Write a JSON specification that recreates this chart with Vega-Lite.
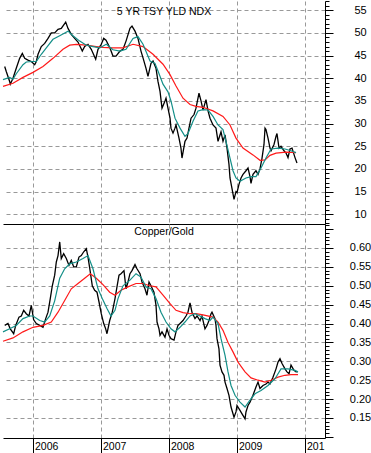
{
"$schema": "https://vega.github.io/schema/vega-lite/v6.json",
"padding": 0,
"spacing": 0,
"config": {"view": {"stroke": null}, "axis": {"labelFont": "Liberation Sans", "labelColor": "#000"}},
"datasets": {
"yk": [{"t":2005.584,"v":42.6},{"t":2005.607,"v":41.5},{"t":2005.657,"v":39.3},{"t":2005.666,"v":38.7},{"t":2005.706,"v":40},{"t":2005.754,"v":42.2},{"t":2005.804,"v":44.4},{"t":2005.843,"v":45.5},{"t":2005.878,"v":44.4},{"t":2005.926,"v":44},{"t":2005.975,"v":43.7},{"t":2006.025,"v":43},{"t":2006.049,"v":43.7},{"t":2006.074,"v":45.3},{"t":2006.122,"v":47},{"t":2006.172,"v":47.7},{"t":2006.221,"v":48.8},{"t":2006.269,"v":50},{"t":2006.319,"v":50},{"t":2006.368,"v":50.8},{"t":2006.416,"v":51},{"t":2006.481,"v":52.4},{"t":2006.515,"v":51},{"t":2006.563,"v":49.7},{"t":2006.613,"v":48.8},{"t":2006.662,"v":48},{"t":2006.725,"v":46},{"t":2006.76,"v":47},{"t":2006.809,"v":47.5},{"t":2006.857,"v":46.4},{"t":2006.922,"v":44.2},{"t":2006.956,"v":46.4},{"t":2007.004,"v":47.5},{"t":2007.04,"v":48.8},{"t":2007.074,"v":48.4},{"t":2007.132,"v":46.7},{"t":2007.176,"v":44.9},{"t":2007.221,"v":44.9},{"t":2007.279,"v":46},{"t":2007.324,"v":46.4},{"t":2007.368,"v":48.2},{"t":2007.426,"v":51},{"t":2007.456,"v":51.5},{"t":2007.5,"v":50.4},{"t":2007.544,"v":48.8},{"t":2007.588,"v":46},{"t":2007.618,"v":44.5},{"t":2007.662,"v":42.2},{"t":2007.691,"v":40.4},{"t":2007.735,"v":43.3},{"t":2007.765,"v":43.8},{"t":2007.809,"v":42.2},{"t":2007.838,"v":39.3},{"t":2007.868,"v":37.1},{"t":2007.897,"v":33.4},{"t":2007.941,"v":35},{"t":2007.956,"v":35.6},{"t":2007.985,"v":33.4},{"t":2008.015,"v":31.2},{"t":2008.029,"v":29},{"t":2008.059,"v":27.9},{"t":2008.088,"v":29},{"t":2008.103,"v":29.7},{"t":2008.147,"v":26.8},{"t":2008.176,"v":24.6},{"t":2008.191,"v":22.4},{"t":2008.235,"v":26.1},{"t":2008.265,"v":26.8},{"t":2008.294,"v":29},{"t":2008.324,"v":31.2},{"t":2008.368,"v":32},{"t":2008.397,"v":33.4},{"t":2008.441,"v":36.7},{"t":2008.471,"v":35},{"t":2008.5,"v":33},{"t":2008.544,"v":35.3},{"t":2008.574,"v":32.8},{"t":2008.603,"v":31.2},{"t":2008.647,"v":29.7},{"t":2008.691,"v":29},{"t":2008.721,"v":26.1},{"t":2008.75,"v":27.5},{"t":2008.765,"v":28.2},{"t":2008.794,"v":26.1},{"t":2008.824,"v":27.5},{"t":2008.853,"v":24.6},{"t":2008.882,"v":21},{"t":2008.897,"v":18},{"t":2008.926,"v":15.7},{"t":2008.956,"v":13.3},{"t":2008.985,"v":15},{"t":2009.0,"v":14.8},{"t":2009.029,"v":16.6},{"t":2009.059,"v":18},{"t":2009.088,"v":18.8},{"t":2009.132,"v":19.6},{"t":2009.162,"v":20.2},{"t":2009.191,"v":18.3},{"t":2009.206,"v":16.8},{"t":2009.235,"v":18.8},{"t":2009.279,"v":19.6},{"t":2009.309,"v":18.8},{"t":2009.338,"v":20},{"t":2009.368,"v":22.4},{"t":2009.397,"v":25.4},{"t":2009.412,"v":29},{"t":2009.426,"v":28.7},{"t":2009.456,"v":26.8},{"t":2009.485,"v":24.6},{"t":2009.5,"v":24},{"t":2009.544,"v":25.4},{"t":2009.574,"v":27.2},{"t":2009.588,"v":27.8},{"t":2009.618,"v":24.6},{"t":2009.647,"v":25},{"t":2009.691,"v":24},{"t":2009.721,"v":23.5},{"t":2009.75,"v":22.5},{"t":2009.779,"v":24.4},{"t":2009.809,"v":24.6},{"t":2009.853,"v":22.5},{"t":2009.882,"v":21.3}],
"yt": [{"t":2005.559,"v":39.7},{"t":2005.657,"v":40.2},{"t":2005.706,"v":39.8},{"t":2005.754,"v":41},{"t":2005.853,"v":43},{"t":2005.901,"v":43.6},{"t":2006.0,"v":43.7},{"t":2006.049,"v":43.7},{"t":2006.122,"v":45.3},{"t":2006.196,"v":46.7},{"t":2006.294,"v":48.6},{"t":2006.393,"v":49.4},{"t":2006.515,"v":50.4},{"t":2006.588,"v":49.4},{"t":2006.687,"v":48.2},{"t":2006.784,"v":47.3},{"t":2006.882,"v":47},{"t":2006.981,"v":46.7},{"t":2007.078,"v":47.5},{"t":2007.176,"v":46.3},{"t":2007.279,"v":46},{"t":2007.368,"v":46.4},{"t":2007.471,"v":48.8},{"t":2007.544,"v":49.2},{"t":2007.618,"v":47.5},{"t":2007.721,"v":43.8},{"t":2007.794,"v":43.3},{"t":2007.838,"v":41.6},{"t":2007.912,"v":38.7},{"t":2007.985,"v":37},{"t":2008.029,"v":35},{"t":2008.088,"v":31.2},{"t":2008.162,"v":29},{"t":2008.235,"v":27.2},{"t":2008.279,"v":27.8},{"t":2008.353,"v":30.5},{"t":2008.426,"v":32.8},{"t":2008.5,"v":33.1},{"t":2008.574,"v":33},{"t":2008.647,"v":31.6},{"t":2008.721,"v":29.7},{"t":2008.794,"v":28.7},{"t":2008.838,"v":26.1},{"t":2008.897,"v":22.4},{"t":2008.941,"v":19.6},{"t":2008.985,"v":18},{"t":2009.044,"v":17.3},{"t":2009.132,"v":18},{"t":2009.206,"v":18.3},{"t":2009.279,"v":18.3},{"t":2009.353,"v":20.2},{"t":2009.426,"v":22.4},{"t":2009.5,"v":24.4},{"t":2009.603,"v":24.6},{"t":2009.706,"v":24.4},{"t":2009.794,"v":24},{"t":2009.868,"v":23.6}],
"yr": [{"t":2005.559,"v":38.2},{"t":2005.706,"v":38.9},{"t":2005.853,"v":40.2},{"t":2006.0,"v":41.3},{"t":2006.147,"v":42.6},{"t":2006.294,"v":44.4},{"t":2006.441,"v":46.4},{"t":2006.54,"v":47.3},{"t":2006.637,"v":47.5},{"t":2006.784,"v":47.3},{"t":2006.931,"v":47},{"t":2007.029,"v":46.8},{"t":2007.176,"v":46.7},{"t":2007.324,"v":46.7},{"t":2007.471,"v":47.5},{"t":2007.618,"v":47},{"t":2007.765,"v":45.3},{"t":2007.912,"v":43.1},{"t":2008.015,"v":40.8},{"t":2008.103,"v":38.3},{"t":2008.206,"v":35.6},{"t":2008.309,"v":34.2},{"t":2008.397,"v":33.8},{"t":2008.5,"v":33.6},{"t":2008.647,"v":32.8},{"t":2008.794,"v":31.6},{"t":2008.897,"v":29.7},{"t":2008.985,"v":26.8},{"t":2009.088,"v":24.6},{"t":2009.235,"v":23.1},{"t":2009.338,"v":21.9},{"t":2009.412,"v":22},{"t":2009.485,"v":23},{"t":2009.574,"v":23.5},{"t":2009.721,"v":23.7},{"t":2009.868,"v":23.6}],
"ck": [{"t":2005.584,"v":0.395},{"t":2005.632,"v":0.4},{"t":2005.666,"v":0.386},{"t":2005.716,"v":0.373},{"t":2005.746,"v":0.395},{"t":2005.794,"v":0.417},{"t":2005.828,"v":0.42},{"t":2005.863,"v":0.435},{"t":2005.901,"v":0.426},{"t":2005.941,"v":0.42},{"t":2005.975,"v":0.448},{"t":2006.01,"v":0.41},{"t":2006.049,"v":0.4},{"t":2006.099,"v":0.395},{"t":2006.147,"v":0.39},{"t":2006.187,"v":0.413},{"t":2006.221,"v":0.43},{"t":2006.254,"v":0.466},{"t":2006.284,"v":0.5},{"t":2006.319,"v":0.528},{"t":2006.343,"v":0.563},{"t":2006.368,"v":0.58},{"t":2006.393,"v":0.616},{"t":2006.416,"v":0.572},{"t":2006.451,"v":0.585},{"t":2006.49,"v":0.572},{"t":2006.529,"v":0.554},{"t":2006.563,"v":0.567},{"t":2006.599,"v":0.55},{"t":2006.637,"v":0.55},{"t":2006.676,"v":0.576},{"t":2006.71,"v":0.58},{"t":2006.746,"v":0.59},{"t":2006.784,"v":0.598},{"t":2006.809,"v":0.576},{"t":2006.843,"v":0.536},{"t":2006.872,"v":0.5},{"t":2006.907,"v":0.488},{"t":2006.941,"v":0.483},{"t":2006.971,"v":0.457},{"t":2007.004,"v":0.426},{"t":2007.04,"v":0.4},{"t":2007.069,"v":0.386},{"t":2007.088,"v":0.373},{"t":2007.128,"v":0.408},{"t":2007.166,"v":0.43},{"t":2007.206,"v":0.466},{"t":2007.235,"v":0.497},{"t":2007.265,"v":0.528},{"t":2007.294,"v":0.532},{"t":2007.338,"v":0.54},{"t":2007.368,"v":0.492},{"t":2007.397,"v":0.51},{"t":2007.426,"v":0.532},{"t":2007.456,"v":0.54},{"t":2007.5,"v":0.556},{"t":2007.529,"v":0.545},{"t":2007.574,"v":0.532},{"t":2007.603,"v":0.51},{"t":2007.647,"v":0.492},{"t":2007.676,"v":0.475},{"t":2007.706,"v":0.51},{"t":2007.735,"v":0.5},{"t":2007.779,"v":0.483},{"t":2007.809,"v":0.448},{"t":2007.824,"v":0.404},{"t":2007.853,"v":0.386},{"t":2007.868,"v":0.369},{"t":2007.897,"v":0.378},{"t":2007.941,"v":0.364},{"t":2007.971,"v":0.386},{"t":2008.0,"v":0.369},{"t":2008.029,"v":0.36},{"t":2008.074,"v":0.356},{"t":2008.103,"v":0.378},{"t":2008.132,"v":0.395},{"t":2008.162,"v":0.4},{"t":2008.206,"v":0.408},{"t":2008.25,"v":0.42},{"t":2008.279,"v":0.43},{"t":2008.309,"v":0.455},{"t":2008.338,"v":0.43},{"t":2008.382,"v":0.413},{"t":2008.412,"v":0.42},{"t":2008.456,"v":0.408},{"t":2008.485,"v":0.42},{"t":2008.529,"v":0.386},{"t":2008.559,"v":0.395},{"t":2008.588,"v":0.408},{"t":2008.618,"v":0.426},{"t":2008.632,"v":0.43},{"t":2008.676,"v":0.413},{"t":2008.691,"v":0.395},{"t":2008.706,"v":0.36},{"t":2008.735,"v":0.333},{"t":2008.75,"v":0.29},{"t":2008.779,"v":0.272},{"t":2008.809,"v":0.263},{"t":2008.824,"v":0.245},{"t":2008.853,"v":0.228},{"t":2008.882,"v":0.21},{"t":2008.912,"v":0.179},{"t":2008.956,"v":0.152},{"t":2008.985,"v":0.166},{"t":2009.0,"v":0.183},{"t":2009.044,"v":0.17},{"t":2009.074,"v":0.161},{"t":2009.118,"v":0.148},{"t":2009.132,"v":0.166},{"t":2009.162,"v":0.183},{"t":2009.191,"v":0.192},{"t":2009.235,"v":0.21},{"t":2009.279,"v":0.232},{"t":2009.309,"v":0.245},{"t":2009.338,"v":0.228},{"t":2009.382,"v":0.236},{"t":2009.426,"v":0.24},{"t":2009.456,"v":0.245},{"t":2009.485,"v":0.24},{"t":2009.529,"v":0.258},{"t":2009.574,"v":0.28},{"t":2009.603,"v":0.298},{"t":2009.632,"v":0.307},{"t":2009.662,"v":0.294},{"t":2009.706,"v":0.28},{"t":2009.735,"v":0.272},{"t":2009.765,"v":0.267},{"t":2009.794,"v":0.29},{"t":2009.838,"v":0.276},{"t":2009.868,"v":0.272},{"t":2009.897,"v":0.273}],
"ct": [{"t":2005.559,"v":0.378},{"t":2005.657,"v":0.386},{"t":2005.754,"v":0.395},{"t":2005.853,"v":0.413},{"t":2005.951,"v":0.42},{"t":2006.0,"v":0.42},{"t":2006.099,"v":0.408},{"t":2006.172,"v":0.404},{"t":2006.246,"v":0.42},{"t":2006.319,"v":0.46},{"t":2006.393,"v":0.52},{"t":2006.466,"v":0.545},{"t":2006.54,"v":0.558},{"t":2006.637,"v":0.563},{"t":2006.735,"v":0.572},{"t":2006.809,"v":0.58},{"t":2006.882,"v":0.545},{"t":2006.956,"v":0.492},{"t":2007.029,"v":0.462},{"t":2007.088,"v":0.44},{"t":2007.147,"v":0.42},{"t":2007.206,"v":0.435},{"t":2007.25,"v":0.466},{"t":2007.324,"v":0.5},{"t":2007.426,"v":0.515},{"t":2007.515,"v":0.532},{"t":2007.588,"v":0.523},{"t":2007.662,"v":0.497},{"t":2007.735,"v":0.492},{"t":2007.809,"v":0.466},{"t":2007.882,"v":0.43},{"t":2007.956,"v":0.404},{"t":2008.029,"v":0.386},{"t":2008.088,"v":0.378},{"t":2008.162,"v":0.39},{"t":2008.235,"v":0.404},{"t":2008.309,"v":0.42},{"t":2008.382,"v":0.426},{"t":2008.456,"v":0.42},{"t":2008.529,"v":0.413},{"t":2008.603,"v":0.408},{"t":2008.647,"v":0.417},{"t":2008.721,"v":0.4},{"t":2008.765,"v":0.36},{"t":2008.824,"v":0.316},{"t":2008.868,"v":0.272},{"t":2008.912,"v":0.236},{"t":2008.971,"v":0.21},{"t":2009.044,"v":0.192},{"t":2009.118,"v":0.179},{"t":2009.191,"v":0.197},{"t":2009.265,"v":0.214},{"t":2009.353,"v":0.223},{"t":2009.456,"v":0.236},{"t":2009.559,"v":0.254},{"t":2009.647,"v":0.28},{"t":2009.75,"v":0.28},{"t":2009.853,"v":0.276},{"t":2009.897,"v":0.272}],
"cr": [{"t":2005.559,"v":0.353},{"t":2005.706,"v":0.362},{"t":2005.853,"v":0.378},{"t":2006.0,"v":0.39},{"t":2006.147,"v":0.395},{"t":2006.269,"v":0.404},{"t":2006.368,"v":0.43},{"t":2006.466,"v":0.461},{"t":2006.563,"v":0.492},{"t":2006.662,"v":0.506},{"t":2006.76,"v":0.52},{"t":2006.843,"v":0.532},{"t":2006.931,"v":0.52},{"t":2007.029,"v":0.503},{"t":2007.128,"v":0.483},{"t":2007.206,"v":0.475},{"t":2007.294,"v":0.488},{"t":2007.397,"v":0.497},{"t":2007.515,"v":0.506},{"t":2007.618,"v":0.506},{"t":2007.721,"v":0.5},{"t":2007.809,"v":0.497},{"t":2007.912,"v":0.475},{"t":2008.015,"v":0.453},{"t":2008.103,"v":0.435},{"t":2008.206,"v":0.429},{"t":2008.309,"v":0.426},{"t":2008.397,"v":0.426},{"t":2008.5,"v":0.423},{"t":2008.647,"v":0.417},{"t":2008.721,"v":0.404},{"t":2008.794,"v":0.382},{"t":2008.868,"v":0.35},{"t":2008.941,"v":0.325},{"t":2009.015,"v":0.298},{"t":2009.118,"v":0.272},{"t":2009.206,"v":0.256},{"t":2009.309,"v":0.25},{"t":2009.412,"v":0.245},{"t":2009.5,"v":0.25},{"t":2009.603,"v":0.258},{"t":2009.706,"v":0.263},{"t":2009.794,"v":0.265},{"t":2009.897,"v":0.265}]
},
"vconcat": [
{
"width": 322, "height": 223,
"title": {"text": "5 YR TSY YLD NDX", "frame": "group", "anchor": "middle", "offset": -16.5, "baseline": "top", "fontSize": 10.5, "fontWeight": "normal", "font": "Liberation Sans", "color": "#000"},
"encoding": {
"x": {"field": "t", "type": "quantitative", "scale": {"domain": [2005.559, 2010.294], "nice": false, "zero": false},
 "axis": {"values": [2006, 2007, 2008, 2009, 2010], "title": null, "labels": false, "ticks": false, "domain": true, "domainColor": "#000", "grid": true, "gridColor": "#999999", "gridDash": [4, 3], "gridOpacity": 1}},
"y": {"field": "v", "type": "quantitative", "scale": {"domain": [7.85, 57.05], "nice": false, "zero": false},
 "axis": {"orient": "right", "title": null, "values": [8,9,10,11,12,13,14,15,16,17,18,19,20,21,22,23,24,25,26,27,28,29,30,31,32,33,34,35,36,37,38,39,40,41,42,43,44,45,46,47,48,49,50,51,52,53,54,55,56,57],
  "format": "d", "labelExpr": "datum.value % 5 === 0 ? datum.label : ''", "domainColor": "#000", "tickColor": "#000",
  "tickSize": {"condition": {"test": "datum.value % 5 === 0", "value": 8}, "value": 4},
  "labelFontSize": {"condition": {"test": "datum.value % 5 === 0", "value": 11}, "value": 0},
  "labelAlign": "center", "labelPadding": 27, "labelOverlap": false, "labelBound": false, "labelFlush": false,
  "grid": true, "gridColor": "#999999", "gridDash": [4, 3], "gridOpacity": {"condition": {"test": "datum.value % 5 === 0", "value": 1}, "value": 0}}}
},
"layer": [
{"data": {"name": "yk"}, "mark": {"type": "line", "color": "#000000", "strokeWidth": 1.3}},
{"data": {"name": "yr"}, "mark": {"type": "line", "color": "#ff1a1a", "strokeWidth": 1.2}},
{"data": {"name": "yt"}, "mark": {"type": "line", "color": "#138f88", "strokeWidth": 1.2}}
]
},
{
"width": 322, "height": 214,
"title": {"text": "Copper/Gold", "frame": "group", "anchor": "middle", "offset": -13, "baseline": "top", "fontSize": 10.5, "fontWeight": "normal", "font": "Liberation Sans", "color": "#000"},
"encoding": {
"x": {"field": "t", "type": "quantitative", "scale": {"domain": [2005.559, 2010.294], "nice": false, "zero": false},
 "axis": {"values": [2006, 2007, 2008, 2009, 2010], "title": null, "format": "d", "labelExpr": "datum.value == 2010 ? '201' : datum.label",
  "ticks": true, "tickSize": 15, "tickColor": "#000", "domain": true, "domainColor": "#000",
  "labelAlign": "left", "labelBaseline": "top", "labelPadding": -12, "labelOffset": 1.5, "labelFontSize": 10.5, "labelOverlap": false, "labelBound": false, "labelFlush": false,
  "grid": true, "gridColor": "#999999", "gridDash": [4, 3], "gridOpacity": 1}},
"y": {"field": "v", "type": "quantitative", "scale": {"domain": [0.097, 0.6635], "nice": false, "zero": false},
 "axis": {"orient": "right", "title": null, "values": [0.1,0.11,0.12,0.13,0.14,0.15,0.16,0.17,0.18,0.19,0.2,0.21,0.22,0.23,0.24,0.25,0.26,0.27,0.28,0.29,0.3,0.31,0.32,0.33,0.34,0.35,0.36,0.37,0.38,0.39,0.4,0.41,0.42,0.43,0.44,0.45,0.46,0.47,0.48,0.49,0.5,0.51,0.52,0.53,0.54,0.55,0.56,0.57,0.58,0.59,0.6,0.61,0.62,0.63,0.64,0.65,0.66],
  "format": ".2f", "labelExpr": "round(datum.value * 100) % 5 === 0 && datum.value > 0.12 && datum.value < 0.62 ? datum.label : ''", "domainColor": "#000", "tickColor": "#000",
  "tickSize": {"condition": {"test": "round(datum.value * 100) % 5 === 0", "value": 8}, "value": 4},
  "labelFontSize": {"condition": {"test": "round(datum.value * 100) % 5 === 0 && datum.value > 0.12 && datum.value < 0.62", "value": 11}, "value": 0},
  "labelAlign": "center", "labelPadding": 27, "labelOverlap": false, "labelBound": false, "labelFlush": false,
  "grid": true, "gridColor": "#999999", "gridDash": [4, 3], "gridOpacity": {"condition": {"test": "round(datum.value * 100) % 5 === 0 && datum.value > 0.12 && datum.value < 0.62", "value": 1}, "value": 0}}}
},
"layer": [
{"data": {"name": "ck"}, "mark": {"type": "line", "color": "#000000", "strokeWidth": 1.3}},
{"data": {"name": "cr"}, "mark": {"type": "line", "color": "#ff1a1a", "strokeWidth": 1.2}},
{"data": {"name": "ct"}, "mark": {"type": "line", "color": "#138f88", "strokeWidth": 1.2}}
]
}
]
}
